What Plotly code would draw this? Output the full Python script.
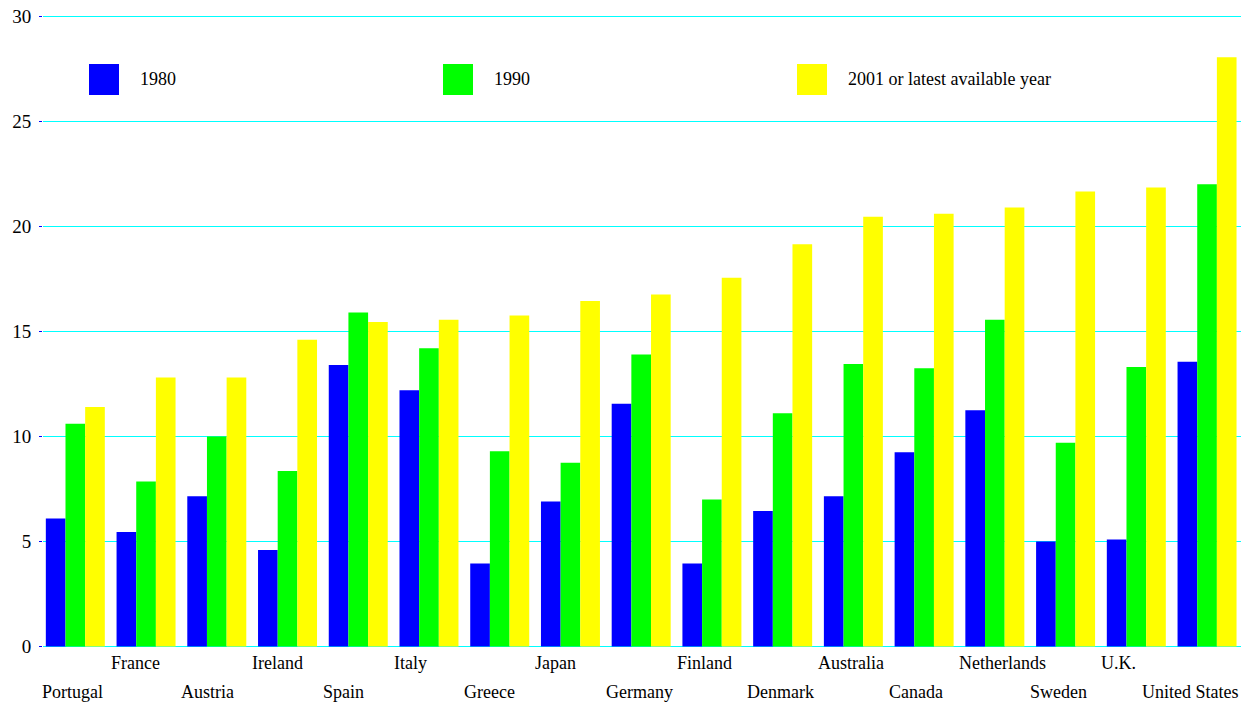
import plotly.graph_objects as go

countries = ["Portugal", "France", "Austria", "Ireland", "Spain", "Italy", "Greece",
             "Japan", "Germany", "Finland", "Denmark", "Australia", "Canada",
             "Netherlands", "Sweden", "U.K.", "United States"]
v1980 = [6.1, 5.45, 7.15, 4.6, 13.4, 12.2, 3.95, 6.9, 11.55, 3.95, 6.45, 7.15, 9.25, 11.25, 5.0, 5.1, 13.55]
v1990 = [10.6, 7.85, 10.0, 8.35, 15.9, 14.2, 9.3, 8.75, 13.9, 7.0, 11.1, 13.45, 13.25, 15.55, 9.7, 13.3, 22.0]
v2001 = [11.4, 12.8, 12.8, 14.6, 15.45, 15.55, 15.75, 16.45, 16.75, 17.55, 19.15, 20.45, 20.6, 20.9, 21.65, 21.85, 28.05]
series_names = ["1980", "1990", "2001 or latest available year"]
colors = ["#0000ff", "#00ff00", "#ffff00"]
yticks = [0, 5, 10, 15, 20, 25, 30]

FONT = "Liberation Serif, Times New Roman, serif"

W, H = 1253, 706
ML, MR, MT, MB = 43, 12, 13, 59
PW, PH = W - ML - MR, H - MT - MB
X0, X1 = -0.457, 16.48

def px_x(p):
    return (p - ML) / PW

def px_y(p):
    return (H - MB - p) / PH

fig = go.Figure()
for name, vals, col in zip(series_names, [v1980, v1990, v2001], colors):
    fig.add_trace(go.Bar(x=list(range(len(countries))), y=vals, name=name,
                         marker=dict(color=col, line=dict(width=0)), showlegend=False))

annotations = []
n = len(countries)
for i, c in enumerate(countries):
    row_shift = -16 if i % 2 == 1 else -45
    font = dict(family=FONT, size=18, color="black")
    if i == n - 1:
        annotations.append(dict(x=1, y=0, xref="paper", yref="y", text=c, showarrow=False,
                                xanchor="right", yanchor="middle", yshift=row_shift, font=font))
    elif i == 0:
        annotations.append(dict(x=0, y=0, xref="paper", yref="y", text=c, showarrow=False,
                                xanchor="left", yanchor="middle", yshift=row_shift, xshift=-3,
                                font=font))
    else:
        annotations.append(dict(x=i - 0.5, y=0, xref="x", yref="y", text=c, showarrow=False,
                                xanchor="left", yanchor="middle", yshift=row_shift, xshift=-2,
                                font=font))

# legend (drawn manually)
shapes = []
leg_px = [89, 443, 797]
for lp, name, col in zip(leg_px, series_names, colors):
    shapes.append(dict(type="rect", xref="paper", yref="paper", x0=px_x(lp), x1=px_x(lp + 30),
                       y0=px_y(95), y1=px_y(64), fillcolor=col, line=dict(width=0)))
    annotations.append(dict(x=px_x(lp + 49), y=px_y(79), xref="paper", yref="paper", text=name,
                            showarrow=False, xanchor="left", yanchor="middle",
                            font=dict(family=FONT, size=18, color="black")))

fig.update_layout(
    width=W, height=H,
    margin=dict(l=ML, r=MR, t=MT, b=MB, autoexpand=False),
    paper_bgcolor="white", plot_bgcolor="white",
    barmode="group", bargap=0.166, bargroupgap=0,
    font=dict(family=FONT, size=18, color="black"),
    xaxis=dict(range=[X0, X1], showticklabels=False, showgrid=False, zeroline=False,
               ticks="", showline=False, fixedrange=True, automargin=False),
    yaxis=dict(range=[-0.02, 30.15], tickvals=yticks, ticktext=[str(t) for t in yticks],
               showgrid=True, gridcolor="#00ffff", gridwidth=1,
               zeroline=True, zerolinecolor="#00ffff", zerolinewidth=1,
               ticks="outside", ticklen=3, tickcolor="#0000ff", tickwidth=1,
               ticklabelstandoff=4, showline=False, automargin=False,
               tickfont=dict(family=FONT, size=19, color="black")),
    shapes=shapes, annotations=annotations,
)

fig.write_html("out.html", config={"displayModeBar": False},
               post_script="document.body.style.margin='0';document.body.style.padding='0';document.body.style.overflow='hidden';")
